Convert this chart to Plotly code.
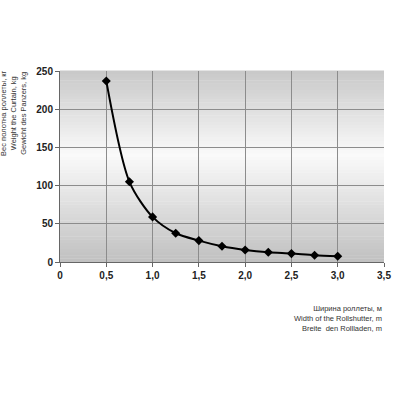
import plotly.graph_objects as go

width_m = [0.5, 0.75, 1.0, 1.25, 1.5, 1.75, 2.0, 2.25, 2.5, 2.75, 3.0]
weight_kg = [237, 105, 59, 37.6, 28, 20.6, 15.8, 12.7, 11, 8.8, 7.5]
x_ticks = [0, 0.5, 1.0, 1.5, 2.0, 2.5, 3.0, 3.5]
x_tick_labels = ["0", "0,5", "1,0", "1,5", "2,0", "2,5", "3,0", "3,5"]
y_ticks = [0, 50, 100, 150, 200, 250]

fig = go.Figure()
fig.add_trace(go.Scatter(
    x=width_m, y=weight_kg, mode="lines+markers",
    line=dict(color="black", width=2, shape="spline", smoothing=0.8),
    marker=dict(symbol="diamond", size=7, color="black"),
    showlegend=False, hoverinfo="skip"))

# vertical gradient background
def lerp(a, b, t):
    return int(round(a + (b - a) * t))

n = 60
top_c, mid_c, bot_c = 200, 250, 192
mid_pos = 0.56
shapes = []
for i in range(n):
    y0 = i / n
    y1 = (i + 1) / n
    yc = (y0 + y1) / 2
    if yc < mid_pos:
        v = lerp(bot_c, mid_c, yc / mid_pos)
    else:
        v = lerp(mid_c, top_c, (yc - mid_pos) / (1 - mid_pos))
    shapes.append(dict(type="rect", xref="paper", yref="paper", x0=0, x1=1,
                       y0=y0, y1=y1 + 0.002, fillcolor=f"rgb({v},{v},{v})",
                       line=dict(width=0), layer="below"))

tick_font = dict(family="Liberation Sans Narrow, Arial Narrow, Liberation Sans", size=10, color="#222", weight="bold")
title_font = dict(family="Liberation Sans Narrow, Liberation Sans", size=7.5, color="#333")
fig.update_layout(
    width=400, height=400,
    margin=dict(l=60, r=9, t=71, b=137.5),
    paper_bgcolor="white", plot_bgcolor="rgba(0,0,0,0)",
    separators=", ",
    shapes=shapes,
    xaxis=dict(range=[0, 3.5], tickvals=x_ticks, ticktext=x_tick_labels,
               showgrid=True, gridcolor="#8c8c8c", gridwidth=1,
               showline=True, linecolor="#666", linewidth=1,
               ticks="outside", ticklen=4, tickcolor="#666",
               zeroline=False, tickfont=tick_font),
    yaxis=dict(range=[0, 250], tickvals=y_ticks,
               showgrid=True, gridcolor="#8c8c8c", gridwidth=1,
               showline=True, linecolor="#666", linewidth=1,
               ticks="outside", ticklen=4, tickcolor="#666",
               zeroline=False, tickfont=tick_font),
    annotations=[
        dict(text="Вес полотна роллеты, кг<br>Weight the Curtain, kg<br>Gewicht des Panzers, kg",
             xref="paper", yref="paper", x=(13 - 60) / 331, y=(262.5 - 113) / 191.5,
             xanchor="center", yanchor="middle", textangle=-90, showarrow=False,
             align="center", font=title_font),
        dict(text="Ширина роллеты, м<br>Width of the Rollshutter, m<br>Breite  den Rollladen, m",
             xref="paper", yref="paper", x=1.0, y=(262.5 - 303) / 191.5,
             xanchor="right", yanchor="top", showarrow=False, align="right",
             font=title_font),
    ],
)

fig.write_html("out.html", config={"displayModeBar": False},
               post_script="document.body.style.margin='0';")
